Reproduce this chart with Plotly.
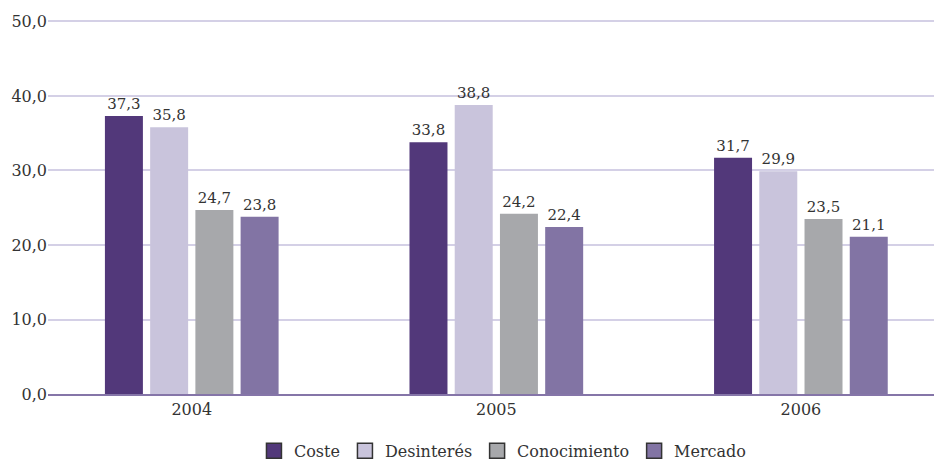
import plotly.graph_objects as go

years = ["2004", "2005", "2006"]
series_names = ["Coste", "Desinterés", "Conocimiento", "Mercado"]
coste = [37.3, 33.8, 31.7]
desinteres = [35.8, 38.8, 29.9]
conocimiento = [24.7, 24.2, 23.5]
mercado = [23.8, 22.4, 21.1]
colors = ["#52387a", "#c9c4dc", "#a7a8ab", "#8274a4"]
y_ticks = [0, 10, 20, 30, 40, 50]
y_tick_labels = ["0,0", "10,0", "20,0", "30,0", "40,0", "50,0"]

FONT = "'DejaVu Serif', serif"

fig = go.Figure()
for name, vals, col in zip(series_names, [coste, desinteres, conocimiento, mercado], colors):
    fig.add_trace(go.Bar(
        x=years, y=vals, name=name, showlegend=False,
        marker=dict(color=col, line=dict(width=0)),
        text=[f"{v:.1f}".replace(".", ",") for v in vals],
        textposition="outside", constraintext="none",
        textfont=dict(family=FONT, size=15, color="#333333"),
        cliponaxis=False,
    ))
# legend entries (outlined squares)
for name, col in zip(series_names, colors):
    fig.add_trace(go.Scatter(
        x=[years[0]], y=[None], mode="markers", name=name,
        marker=dict(symbol="square", size=15, color=col,
                    line=dict(color="#333333", width=1.5)),
    ))

fig.update_layout(
    width=934, height=463,
    margin=dict(l=48, r=0, t=20, b=69, autoexpand=False),
    paper_bgcolor="white", plot_bgcolor="white",
    barmode="group", bargap=0.406, bargroupgap=0.16,
    font=dict(family=FONT, size=16, color="#333333"),
    showlegend=True,
    legend=dict(
        orientation="h",
        x=0.5135, xanchor="center", y=-0.152, yanchor="middle",
        font=dict(family=FONT, size=16, color="#333333"),
        itemwidth=30, traceorder="normal",
    ),
    xaxis=dict(
        type="category", range=[-0.472, 2.437],
        showgrid=False, showline=True, linecolor="#8575a8", linewidth=2,
        ticks="", tickfont=dict(family=FONT, size=16, color="#333333"),
        zeroline=False,
    ),
    yaxis=dict(
        range=[0, 50.2], tickvals=y_ticks, ticktext=y_tick_labels,
        showgrid=True, gridcolor="#d4d0e6", gridwidth=1.5,
        zeroline=False, showline=False, ticks="",
        tickfont=dict(family=FONT, size=16, color="#333333"),
    ),
)

fig.write_html("out.html")
